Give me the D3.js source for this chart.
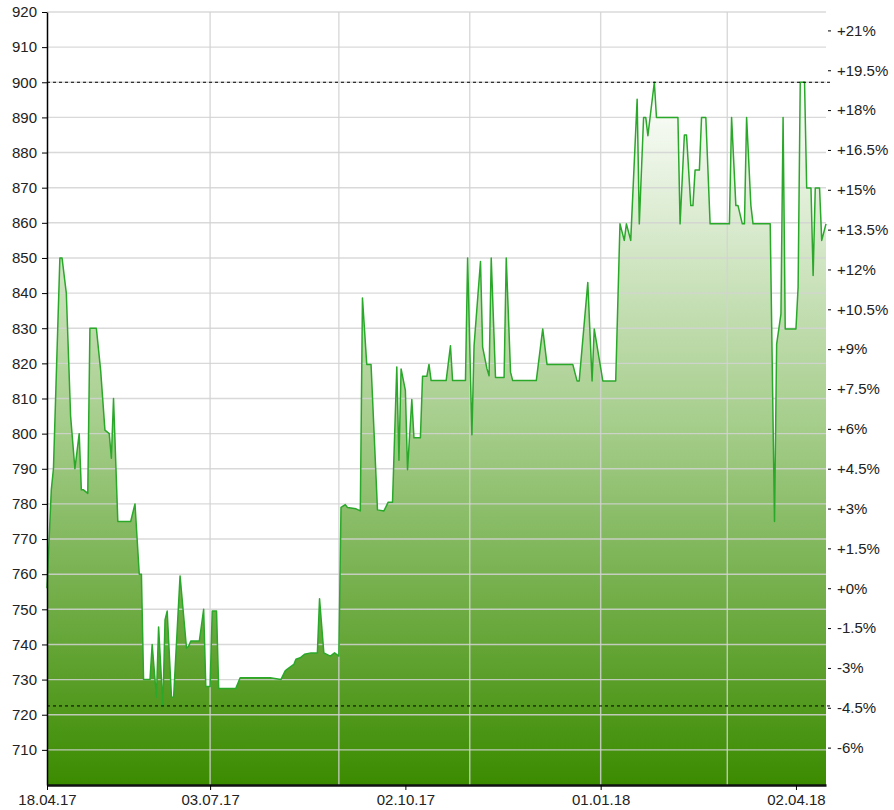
<!DOCTYPE html>
<html>
    <head>
        <meta charset="utf-8">
        <title>Kursverlauf</title>
        <script src="https://cdn.jsdelivr.net/npm/d3@7"></script>
        <style>
            body { margin: 0; background: #fff; }
            svg text { font-family: "Liberation Sans", Arial, sans-serif; font-size: 15px; fill: #222; }
        </style>
    </head>
    <body>
        <script>
            // price series (date, value)
            var dates = [
                "18.04.17", "20.04.17", "21.04.17", "24.04.17", "25.04.17", "27.04.17", "29.04.17",
                "01.05.17", "03.05.17", "04.05.17", "05.05.17", "07.05.17", "08.05.17", "11.05.17",
                "13.05.17", "15.05.17", "17.05.17", "18.05.17", "19.05.17", "21.05.17", "27.05.17",
                "29.05.17", "31.05.17", "01.06.17", "02.06.17", "05.06.17", "06.06.17", "08.06.17",
                "09.06.17", "11.06.17", "12.06.17", "13.06.17", "15.06.17", "16.06.17", "19.06.17",
                "22.06.17", "23.06.17", "24.06.17", "28.06.17", "30.06.17", "01.07.17", "03.07.17",
                "04.07.17", "06.07.17", "07.07.17", "15.07.17", "17.07.17", "31.07.17", "05.08.17",
                "07.08.17", "08.08.17", "11.08.17", "12.08.17", "14.08.17", "16.08.17", "19.08.17",
                "22.08.17", "23.08.17", "25.08.17", "28.08.17", "30.08.17", "01.09.17", "02.09.17",
                "04.09.17", "05.09.17", "09.09.17", "11.09.17", "12.09.17", "14.09.17", "16.09.17",
                "19.09.17", "22.09.17", "24.09.17", "26.09.17", "28.09.17", "29.09.17", "30.09.17",
                "02.10.17", "03.10.17", "05.10.17", "06.10.17", "09.10.17", "10.10.17", "12.10.17",
                "13.10.17", "14.10.17", "21.10.17", "23.10.17", "24.10.17", "30.10.17", "31.10.17",
                "02.11.17", "03.11.17", "06.11.17", "07.11.17", "09.11.17", "10.11.17", "11.11.17",
                "13.11.17", "17.11.17", "18.11.17", "20.11.17", "21.11.17", "02.12.17", "05.12.17",
                "07.12.17", "19.12.17", "21.12.17", "22.12.17", "26.12.17", "28.12.17", "29.12.17",
                "02.01.18", "08.01.18", "10.01.18", "12.01.18", "13.01.18", "15.01.18", "18.01.18",
                "19.01.18", "21.01.18", "22.01.18", "23.01.18", "26.01.18", "27.01.18", "06.02.18",
                "07.02.18", "09.02.18", "10.02.18", "12.02.18", "13.02.18", "14.02.18", "16.02.18",
                "17.02.18", "19.02.18", "21.02.18", "02.03.18", "03.03.18", "05.03.18", "06.03.18",
                "08.03.18", "09.03.18", "10.03.18", "12.03.18", "13.03.18", "21.03.18", "23.03.18",
                "24.03.18", "26.03.18", "27.03.18", "28.03.18", "02.04.18", "03.04.18", "04.04.18",
                "06.04.18", "07.04.18", "09.04.18", "10.04.18", "11.04.18", "13.04.18", "14.04.18",
                "16.04.18"
            ];
            var values = [
                756, 784, 790, 850, 850, 840, 805,
                790, 800, 784, 784, 783, 830, 830,
                818, 801, 800, 793, 810, 775, 775,
                780, 760, 760, 730, 730, 740, 725,
                745, 722.5, 747, 749.5, 725, 725, 759.5,
                739, 739.5, 741, 741, 750, 728, 728,
                749.5, 749.5, 727.5, 727.5, 730.5, 730.5, 730,
                732.5, 733, 734.3, 735.8, 736.2, 737.2, 737.6,
                737.6, 753, 737.6, 736.7, 737.6, 736.7, 779,
                779.8, 779, 778.6, 778, 838.6, 819.7, 819.7,
                778.3, 778, 780.5, 780.5, 819, 792.4, 818.4,
                812.3, 789.7, 809.7, 798.8, 798.8, 816.3, 816.3,
                819.7, 815.1, 815.1, 825, 815.1, 815.1, 850,
                799.7, 825, 849, 824.6, 818.5, 816.5, 850,
                816, 816, 850, 817.5, 815.1, 815.1, 829.8,
                819.7, 819.7, 815, 815, 843, 815, 829.8,
                815, 815, 859.7, 855, 859.7, 855, 895.2,
                859.7, 890, 890, 884.8, 900, 890, 890,
                859.7, 885, 885, 864.9, 864.9, 875, 875,
                890, 890, 859.7, 859.7, 890, 864.9, 864.9,
                859.7, 859.7, 890, 864.9, 859.7, 859.7, 775,
                825.5, 834, 890, 829.8, 829.8, 841.7, 900,
                900, 869.9, 869.9, 845, 869.9, 869.9, 855,
                859.7
            ];

            var priceTicks = [710, 720, 730, 740, 750, 760, 770, 780, 790, 800, 810,
                              820, 830, 840, 850, 860, 870, 880, 890, 900, 910, 920];
            var percentTicks = [-6, -4.5, -3, -1.5, 0, 1.5, 3, 4.5, 6, 7.5, 9, 10.5,
                                12, 13.5, 15, 16.5, 18, 19.5, 21];
            var dateTicks = ["18.04.17", "03.07.17", "02.10.17", "01.01.18", "02.04.18"];
            var gridDates = ["03.07.17", "01.09.17", "01.11.17", "01.01.18", "01.03.18"];
            var dateRange = ["18.04.17", "16.04.18"];
            var priceRange = [700, 920];

            var margin = { top: 12, right: 68, bottom: 25, left: 47 };
            var width = 894 - margin.left - margin.right,
                height = 810 - margin.top - margin.bottom;

            var parse = d3.timeParse("%d.%m.%y");
            var data = dates.map(function(d, i) {
                return { date: parse(d), value: values[i] };
            });

            var svg = d3.select("body").append("svg")
                .attr("width", 894)
                .attr("height", 810);

            var canvas = svg.append("g")
                .attr("transform", "translate(" + margin.left + "," + margin.top + ")");

            var x = d3.scaleTime()
                .domain(dateRange.map(parse))
                .range([0, width]);

            var y = d3.scaleLinear()
                .domain(priceRange)
                .range([height, 0]);

            var maxV = d3.max(values), minV = d3.min(values);
            var base = values[0];

            // gradient for the area
            var grad = svg.append("defs").append("linearGradient")
                .attr("id", "fill")
                .attr("gradientUnits", "userSpaceOnUse")
                .attr("x1", 0).attr("x2", 0)
                .attr("y1", y(maxV)).attr("y2", height);
            grad.append("stop").attr("offset", 0).attr("stop-color", "#ffffff");
            grad.append("stop").attr("offset", 0.5).attr("stop-color", "#a3cc88");
            grad.append("stop").attr("offset", 1).attr("stop-color", "#3b8b00");

            var area = d3.area()
                .x(function(d) { return x(d.date); })
                .y0(height)
                .y1(function(d) { return y(d.value); });

            var line = d3.line()
                .x(function(d) { return x(d.date); })
                .y(function(d) { return y(d.value); });

            canvas.append("path")
                .datum(data)
                .attr("d", area)
                .attr("fill", "url(#fill)");

            // grid
            canvas.append("g")
                .selectAll("line")
                .data(priceTicks)
                .enter().append("line")
                .attr("x1", 0).attr("x2", width)
                .attr("y1", function(d) { return y(d); })
                .attr("y2", function(d) { return y(d); })
                .attr("stroke", "#d2d2d2")
                .attr("stroke-opacity", 0.85)
                .attr("stroke-width", 1.4);

            canvas.append("g")
                .selectAll("line")
                .data(gridDates)
                .enter().append("line")
                .attr("x1", function(d) { return x(parse(d)); })
                .attr("x2", function(d) { return x(parse(d)); })
                .attr("y1", 0).attr("y2", height)
                .attr("stroke", "#d2d2d2")
                .attr("stroke-opacity", 0.85)
                .attr("stroke-width", 1.4);

            canvas.append("path")
                .datum(data)
                .attr("d", line)
                .attr("fill", "none")
                .attr("stroke", "#2aa82a")
                .attr("stroke-width", 1.5)
                .attr("stroke-linejoin", "round");

            // max / min dotted lines
            canvas.append("g")
                .selectAll("line")
                .data([maxV, minV])
                .enter().append("line")
                .attr("x1", 0).attr("x2", width + 4)
                .attr("y1", function(d) { return y(d); })
                .attr("y2", function(d) { return y(d); })
                .attr("stroke", "#000")
                .attr("stroke-width", 1)
                .attr("stroke-dasharray", "3,3");

            // axes
            var yAxis = d3.axisLeft(y)
                .tickValues(priceTicks)
                .tickSize(5)
                .tickSizeOuter(0)
                .tickPadding(5);

            var gy = canvas.append("g").call(yAxis);
            gy.select(".domain").attr("stroke", "#000").attr("stroke-width", 1.5);
            gy.selectAll(".tick line").attr("stroke", "#000");

            var yRight = d3.axisRight(y)
                .tickValues(percentTicks.map(function(p) { return base * (1 + p / 100); }))
                .tickFormat(function(v, i) {
                    var p = percentTicks[i];
                    return (p >= 0 ? "+" : "") + p + "%";
                })
                .tickSize(3)
                .tickPadding(6);

            var gr = canvas.append("g")
                .attr("transform", "translate(" + (width + 2) + ",0)")
                .call(yRight);
            gr.select(".domain").remove();
            gr.selectAll(".tick line").attr("stroke", "#000");

            var xAxis = d3.axisBottom(x)
                .tickValues(dateTicks.map(parse))
                .tickFormat(d3.timeFormat("%d.%m.%y"))
                .tickSize(5)
                .tickSizeOuter(0)
                .tickPadding(4);

            var gx = canvas.append("g")
                .attr("transform", "translate(0," + height + ")")
                .call(xAxis);
            gx.select(".domain").attr("stroke", "#111").attr("stroke-width", 2.5);
            gx.selectAll(".tick line").attr("stroke", "#000");

            svg.selectAll("text").attr("fill", "#222").style("font-size", "15px");
        </script>
    </body>
</html>
